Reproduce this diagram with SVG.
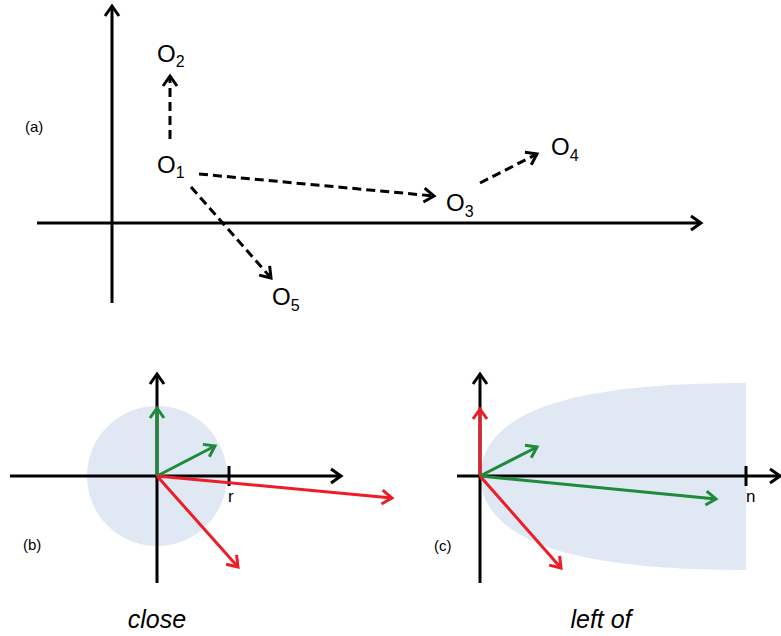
<svg xmlns="http://www.w3.org/2000/svg" width="781" height="636" viewBox="0 0 781 636">
<style>
text{font-family:"Liberation Sans",Arial,sans-serif;fill:#000}
.lbl{font-size:24px}
.sub{font-size:16px}
.pl{font-size:15px}
.cap{font-size:25px;font-style:italic}
.ax{stroke:#000;stroke-width:3;fill:none}
.dash{stroke:#000;stroke-width:3;fill:none;stroke-dasharray:9 5}
.g{stroke:#1e8a3a;stroke-width:3;fill:none}
.r{stroke:#ec1d26;stroke-width:3;fill:none}
.sh{fill:#dfe8f3}
</style>
<defs>
<marker id="ak" markerUnits="userSpaceOnUse" markerWidth="20" markerHeight="20" refX="0" refY="0" orient="auto" overflow="visible"><path d="M-10,-7 L0,0 L-10,7" fill="none" stroke="#000" stroke-width="3"/></marker>
<marker id="ag" markerUnits="userSpaceOnUse" markerWidth="20" markerHeight="20" refX="0" refY="0" orient="auto" overflow="visible"><path d="M-10,-7 L0,0 L-10,7" fill="none" stroke="#1e8a3a" stroke-width="3"/></marker>
<marker id="ar" markerUnits="userSpaceOnUse" markerWidth="20" markerHeight="20" refX="0" refY="0" orient="auto" overflow="visible"><path d="M-10,-7 L0,0 L-10,7" fill="none" stroke="#ec1d26" stroke-width="3"/></marker>
</defs>

<!-- Panel (a) -->
<g id="panel-a-axes">
<line class="ax" x1="112" y1="303" x2="112" y2="6" marker-end="url(#ak)"/>
<line class="ax" x1="37" y1="223" x2="701" y2="223" marker-end="url(#ak)"/>
</g>
<text class="pl" x="25" y="132">(a)</text>
<g id="O1"><text class="lbl" x="157" y="173">O<tspan class="sub" dy="5">1</tspan></text></g>
<g id="O2"><text class="lbl" x="157" y="62">O<tspan class="sub" dy="5">2</tspan></text></g>
<g id="O3"><text class="lbl" x="446" y="211">O<tspan class="sub" dy="6">3</tspan></text></g>
<g id="O4"><text class="lbl" x="551" y="155">O<tspan class="sub" dy="6">4</tspan></text></g>
<g id="O5"><text class="lbl" x="272" y="305">O<tspan class="sub" dy="6">5</tspan></text></g>
<g id="connectors-a">
<line class="dash" x1="170" y1="139" x2="170" y2="76" marker-end="url(#ak)"/>
<line class="dash" x1="199" y1="174" x2="434" y2="196" marker-end="url(#ak)"/>
<line class="dash" x1="480" y1="183" x2="537" y2="154" marker-end="url(#ak)"/>
<line class="dash" x1="191" y1="187" x2="271" y2="278" marker-end="url(#ak)"/>
</g>

<!-- Panel (b) -->
<g id="panel-b">
<circle class="sh" cx="157" cy="476" r="70"/>
<line class="ax" x1="10" y1="476" x2="341" y2="476" marker-end="url(#ak)"/>
<line class="ax" x1="157" y1="583" x2="157" y2="374" marker-end="url(#ak)"/>
<line class="ax" x1="229" y1="466" x2="229" y2="486"/>
<text x="228" y="502" style="font-size:17px">r</text>
<line class="g" x1="157" y1="476" x2="157" y2="408" marker-end="url(#ag)"/>
<line class="g" x1="157" y1="476" x2="215" y2="446" marker-end="url(#ag)"/>
<line class="r" x1="157" y1="476" x2="392" y2="498" marker-end="url(#ar)"/>
<line class="r" x1="157" y1="476" x2="238" y2="567" marker-end="url(#ar)"/>
<text class="pl" x="23" y="550">(b)</text>
<text class="cap" x="157" y="628" text-anchor="middle">close</text>
</g>

<!-- Panel (c) -->
<g id="panel-c">
<path class="sh" d="M480,476 C483,415 560,383 746,383 L746,570 C560,570 483,537 480,476 Z"/>
<line class="ax" x1="457" y1="476" x2="780" y2="476" marker-end="url(#ak)"/>
<line class="ax" x1="480" y1="583" x2="480" y2="374" marker-end="url(#ak)"/>
<line class="ax" x1="746" y1="466" x2="746" y2="486"/>
<text x="746" y="502" style="font-size:17px">n</text>
<line class="r" x1="480" y1="476" x2="480" y2="409" marker-end="url(#ar)"/>
<line class="g" x1="480" y1="476" x2="537" y2="447" marker-end="url(#ag)"/>
<line class="g" x1="480" y1="476" x2="716" y2="499" marker-end="url(#ag)"/>
<line class="r" x1="480" y1="476" x2="561" y2="568" marker-end="url(#ar)"/>
<text class="pl" x="434" y="551">(c)</text>
<text class="cap" x="601" y="628" text-anchor="middle">left of</text>
</g>
</svg>
